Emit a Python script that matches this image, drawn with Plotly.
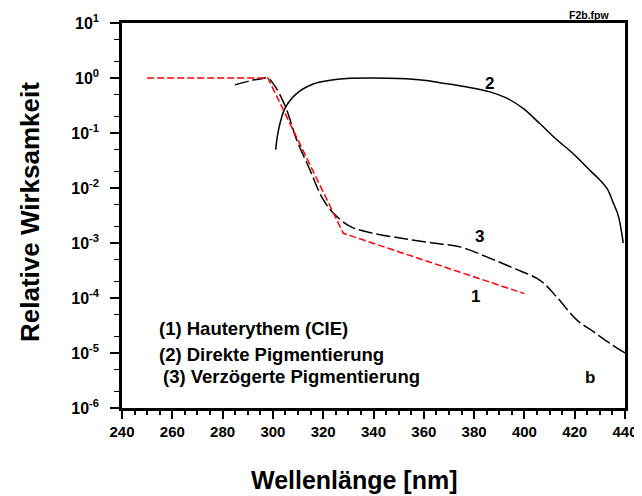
import plotly.graph_objects as go

# Curve 1: Hauterythem (CIE) - red dashed
wl_1 = [250, 298, 328, 400]
val_1 = [1.0, 1.0, 1.5e-3, 1.2e-4]

# Curve 2: Direkte Pigmentierung - solid black
wl_2 = [301.1, 302.2, 304.8, 309.4, 316, 322.7, 329.3, 340, 350, 360, 366.4,
        376, 386.3, 393, 399.5, 406, 412.8, 418, 422.1, 426, 430, 433, 435.3, 437, 438, 439.3]
val_2 = [0.05, 0.112, 0.28, 0.52, 0.78, 0.91, 0.98, 1.0, 0.98, 0.91, 0.82,
         0.70, 0.56, 0.43, 0.28, 0.15, 0.076, 0.048, 0.032, 0.021, 0.014, 0.0095, 0.0054, 0.0035, 0.0023, 0.001]

# Curve 3: Verzögerte Pigmentierung - black long dashes
wl_3 = [284.9, 291, 296, 298, 301, 305, 309.5, 314.8, 319.4, 324, 330.7, 337.3,
        350.5, 363.7, 374.4, 385, 395.6, 406.2, 412.8, 420.8, 427.4, 434, 440]
val_3 = [0.75, 0.89, 0.98, 1.0, 0.69, 0.30, 0.074, 0.021, 0.0069, 0.0035, 0.002, 0.0016,
         0.00123, 0.001, 0.00085, 0.00056, 0.00035, 0.00021, 0.000105, 4.0e-5, 2.45e-5, 1.5e-5, 1.0e-5]

x_ticks = [240, 260, 280, 300, 320, 340, 360, 380, 400, 420, 440]
y_exps = [-6, -5, -4, -3, -2, -1, 0, 1]

FONT = "Liberation Sans"


def bfont(size):
    return dict(size=size, family=FONT, color="black", weight="bold")


fig = go.Figure()
fig.add_trace(go.Scatter(x=wl_2, y=val_2, mode="lines", line=dict(color="black", width=1.5),
                         line_shape="spline", showlegend=False))
fig.add_trace(go.Scatter(x=wl_3, y=val_3, mode="lines", line=dict(color="black", width=1.5, dash="14px,4px"),
                         line_shape="spline", showlegend=False))
fig.add_trace(go.Scatter(x=wl_1, y=val_1, mode="lines", line=dict(color="red", width=1.5, dash="7px,3px"),
                         showlegend=False))

# page body adds an 8px margin, so the figure is 8px smaller and shifted
fig.update_layout(
    width=634, height=488,
    margin=dict(l=114, r=17, t=15, b=88),
    plot_bgcolor="white", paper_bgcolor="white",
    font=bfont(14),
    xaxis=dict(
        range=[240, 440], tickvals=x_ticks, ticktext=[str(v) for v in x_ticks],
        ticks="outside", ticklen=8, tickwidth=1.5, tickcolor="black",
        showline=True, linecolor="black", linewidth=2.5, mirror=True,
        showgrid=False, zeroline=False, automargin=False,
        tickfont=bfont(15),
        minor=dict(dtick=5, ticks="outside", ticklen=4, tickwidth=1.5, tickcolor="black", showgrid=False),
    ),
    yaxis=dict(
        type="log", range=[-6, 1],
        tickvals=[10.0 ** e for e in y_exps],
        ticktext=[f"10<sup>{e}</sup>" for e in y_exps],
        ticks="outside", ticklen=9, tickwidth=1.5, tickcolor="black",
        showline=True, linecolor="black", linewidth=2.5, mirror=True,
        showgrid=False, zeroline=False, automargin=False,
        tickfont=bfont(16), ticklabelstandoff=8,
        minor=dict(ticks="outside", ticklen=5, tickwidth=1.2, tickcolor="black", showgrid=False),
    ),
)

# axis titles
fig.add_annotation(x=0.463, y=0, xref="paper", yref="paper", text="Wellenlänge [nm]",
                   showarrow=False, xanchor="center", yanchor="middle", yshift=-72, font=bfont(25))
fig.add_annotation(x=0, y=0.509, xref="paper", yref="paper", text="Relative Wirksamkeit",
                   showarrow=False, xanchor="center", yanchor="middle", xshift=-92, textangle=-90,
                   font=bfont(26))

ann = [
    dict(x=386.3, y=-0.1, text="2"),
    dict(x=382, y=-2.88, text="3"),
    dict(x=380.7, y=-3.98, text="1"),
    dict(x=426, y=-5.45, text="b"),
]
for a in ann:
    fig.add_annotation(x=a["x"], y=a["y"], text=a["text"], showarrow=False,
                       xref="x", yref="y", font=bfont(17))

legend_lines = ["(1) Hauterythem (CIE)", "(2) Direkte Pigmentierung", "(3) Verzögerte Pigmentierung"]
legend_pos = [(254, -4.55), (254, -5.02), (255.5, -5.43)]
for t, (lx, ly) in zip(legend_lines, legend_pos):
    fig.add_annotation(x=lx, y=ly, text=t, showarrow=False, xref="x", yref="y",
                       xanchor="left", font=bfont(18.5))

fig.add_annotation(x=1.0, y=1.0, xref="paper", yref="paper", text="F2b.fpw",
                   showarrow=False, xanchor="right", yanchor="bottom", xshift=-14, yshift=0,
                   font=bfont(10.5))

fig.write_html("out.html")
